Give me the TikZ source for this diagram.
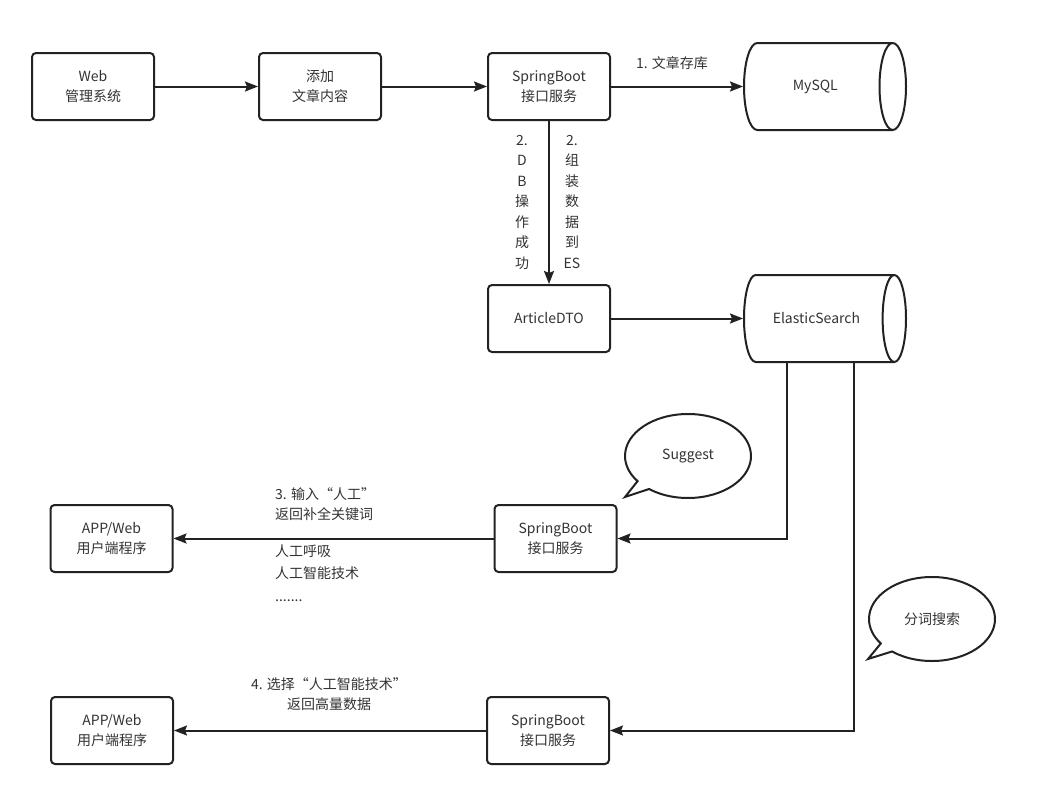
\documentclass[tikz,border=0pt]{standalone}
\usepackage{fontspec}
\setmainfont{Noto Sans CJK SC}
\usetikzlibrary{arrows.meta,positioning,shapes.geometric,shapes.callouts}
\definecolor{ink}{HTML}{333333}
\definecolor{edge}{HTML}{222222}

\begin{document}
\begin{tikzpicture}[
  x=1pt,y=-1pt,
  font=\fontsize{14}{20}\selectfont,text=ink,
  >={Stealth[length=13pt,width=10pt,inset=2pt]},
  box/.style={draw=edge,line width=2pt,rounded corners=4pt,
              minimum width=122pt,minimum height=67pt,align=center},
  db/.style={cylinder,shape border rotate=0,aspect=1.3,draw=edge,line width=2pt,
             minimum width=87pt,minimum height=162pt},
  bubble/.style={ellipse callout,draw=edge,line width=2pt,
                 minimum width=126pt,minimum height=84pt},
  arr/.style={->,draw=edge,line width=2pt},
  lab/.style={inner sep=1pt}
]
\useasboundingbox (0,0) rectangle (1039,798);

% top row
\node[box] (web) at (93,86.5) {Web\\管理系统};
\node[box,right=103pt of web] (add) {添加\\文章内容};
\node[box,right=105pt of add] (sb1) {SpringBoot\\接口服务};
\node[db,right=132pt of sb1] (mysql) {MySQL};

\node[box,below=163pt of sb1] (dto) {ArticleDTO};
\node[db,right=132pt of dto] (es) {ElasticSearch};

\draw[arr] (web) -- (add);
\draw[arr] (add) -- (sb1);
\draw[arr] (sb1) -- (mysql);
\draw[arr] (sb1) -- (dto);
\draw[arr] (dto) -- (es);

\node[lab] (l1) at (672,63) {1. 文章存库};
\node[lab,align=center,font=\fontsize{14}{20.5}\selectfont] (l2a) at (522,202)
  {2.\\D\\B\\操\\作\\成\\功};
\node[lab,align=center,font=\fontsize{14}{20.5}\selectfont] (l2b) at (572,202)
  {2.\\组\\装\\数\\据\\到\\ES};

% suggest
\node[box] (sb2) at (555.5,538.5) {SpringBoot\\接口服务};
\node[box,left=320pt of sb2] (app1) {APP/Web\\用户端程序};
\node[bubble,callout absolute pointer={(625,497)}] (sug) at (688,456) {Suggest};

\draw[arr] ([xshift=-29pt]es.south) |- (sb2.east);
\draw[arr] (sb2) -- (app1);

\node[lab,anchor=west,align=left] (l3) at (274,504) {3. 输入“人工”\\返回补全关键词};
\node[lab,anchor=west,align=left,font=\fontsize{14}{22.5}\selectfont] (l3b) at (274,573)
  {人工呼吸\\人工智能技术\\.......};

% search
\node[box] (sb3) at (548,730.5) {SpringBoot\\接口服务};
\node[box,left=312pt of sb3] (app2) {APP/Web\\用户端程序};
\node[bubble,callout absolute pointer={(868,659)}] (seg) at (932,619) {分词搜索};

\draw[arr] ([xshift=38pt]es.south) |- (sb3.east);
\draw[arr] (sb3) -- (app2);

\node[lab,align=center] (l4) at (329,694.5) {4. 选择“人工智能技术”\\返回高量数据};

\end{tikzpicture}
\end{document}
